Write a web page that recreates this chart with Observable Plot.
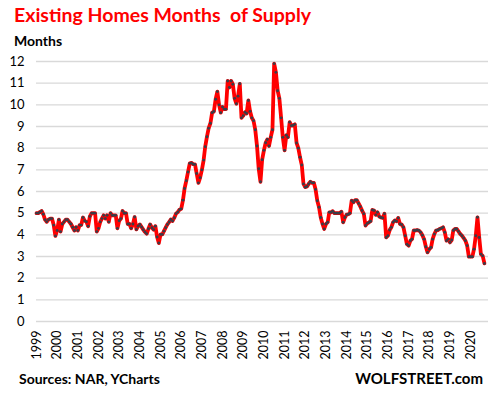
<!DOCTYPE html>
<html><head><meta charset="utf-8">
<script src="https://cdn.jsdelivr.net/npm/d3@7"></script>
<script src="https://cdn.jsdelivr.net/npm/@observablehq/plot@0.6"></script>
<style>
body{margin:0;background:#fff;}
#wrap{position:relative;width:493px;height:395px;overflow:hidden;font-family:Lato,"Open Sans",sans-serif;}
#title{position:absolute;left:14px;top:3px;font-size:19.5px;font-weight:bold;color:#ff0000;white-space:pre;}
#ylab{position:absolute;left:14px;top:32px;font-size:14px;font-weight:bold;color:#000;}
#chart{position:absolute;left:0;top:50px;}
#src{position:absolute;left:19px;top:370px;font-size:14px;font-weight:bold;color:#000;}
#ws{position:absolute;right:10px;top:369px;font-size:15px;font-weight:bold;color:#000;}
</style></head><body>
<div id="wrap">
<div id="title">Existing Homes Months  of Supply</div>
<div id="ylab">Months</div>
<div id="chart"></div>
<div id="src">Sources: NAR, YCharts</div>
<div id="ws">WOLFSTREET.com</div>
</div>
<script>
// Months of supply, monthly values (Jan..Dec) per year
const v1999 = [5.0, 5.0, 5.05, 5.1, 4.95, 4.7, 4.6, 4.7, 4.75, 4.75, 4.45, 3.95];
const v2000 = [4.2, 4.7, 4.15, 4.5, 4.6, 4.7, 4.7, 4.6, 4.5, 4.35, 4.2, 4.35];
const v2001 = [4.2, 4.45, 4.45, 4.8, 4.65, 4.6, 4.4, 4.85, 5.0, 5.0, 5.0, 4.15];
const v2002 = [4.3, 4.6, 4.75, 4.9, 4.75, 4.9, 4.6, 5.0, 4.9, 4.9, 4.9, 4.3];
const v2003 = [4.65, 4.75, 5.1, 5.0, 5.0, 4.5, 4.5, 4.3, 4.5, 4.82, 4.25, 4.4];
const v2004 = [4.48, 4.36, 4.24, 4.13, 4.05, 4.28, 4.48, 4.33, 4.24, 4.4, 3.9, 3.62];
const v2005 = [4.02, 4.02, 4.17, 4.33, 4.48, 4.59, 4.71, 4.64, 4.79, 4.98, 5.05, 5.16];
const v2006 = [5.2, 5.6, 6.14, 6.5, 6.9, 7.3, 7.32, 7.26, 7.25, 6.83, 6.4, 6.64];
const v2007 = [7.0, 7.45, 8.07, 8.53, 8.92, 9.15, 9.64, 9.69, 10.26, 10.61, 10.0, 9.64];
const v2008 = [9.9, 9.8, 9.8, 11.1, 10.8, 11.1, 10.95, 10.3, 10.05, 10.4, 10.97, 9.4];
const v2009 = [9.5, 9.66, 9.6, 10.2, 9.7, 9.4, 9.27, 8.85, 8.1, 7.05, 6.45, 7.47];
const v2010 = [7.9, 8.25, 8.4, 8.1, 8.5, 8.85, 11.9, 11.5, 10.65, 10.3, 9.4, 8.5];
const v2011 = [7.9, 8.6, 8.5, 9.2, 9.04, 9.05, 9.1, 8.24, 8.0, 7.58, 7.22, 6.35];
const v2012 = [6.2, 6.23, 6.35, 6.45, 6.4, 6.4, 6.1, 5.57, 5.27, 4.8, 4.5, 4.27];
const v2013 = [4.5, 4.58, 5.04, 5.04, 5.09, 5.0, 5.0, 5.0, 5.0, 5.07, 4.58, 4.8];
const v2014 = [4.93, 4.95, 5.0, 5.58, 5.5, 5.6, 5.6, 5.45, 5.3, 5.12, 4.97, 4.43];
const v2015 = [4.53, 4.58, 4.63, 5.15, 5.12, 4.92, 5.04, 4.84, 4.8, 4.78, 4.97, 3.88];
const v2016 = [3.96, 4.22, 4.35, 4.58, 4.66, 4.63, 4.78, 4.5, 4.47, 4.35, 3.96, 3.57];
const v2017 = [3.5, 3.73, 3.8, 4.2, 4.2, 4.22, 4.2, 4.12, 3.98, 3.8, 3.45, 3.19];
const v2018 = [3.34, 3.42, 3.8, 4.04, 4.2, 4.22, 4.27, 4.3, 4.35, 4.12, 3.73, 3.8];
const v2019 = [3.65, 3.76, 4.2, 4.27, 4.27, 4.16, 4.04, 3.96, 3.85, 3.73, 3.5, 2.99];
const v2020 = [2.99, 2.99, 3.34, 3.96, 4.81, 3.88, 3.11, 3.03, 2.68];

const years = [1999,2000,2001,2002,2003,2004,2005,2006,2007,2008,2009,2010,2011,2012,2013,2014,2015,2016,2017,2018,2019,2020];
const series = [v1999,v2000,v2001,v2002,v2003,v2004,v2005,v2006,v2007,v2008,v2009,v2010,v2011,v2012,v2013,v2014,v2015,v2016,v2017,v2018,v2019,v2020];
const yTicks = [0,1,2,3,4,5,6,7,8,9,10,11,12];

const data = [];
years.forEach((yr, i) => series[i].forEach((v, m) => data.push({date: new Date(Date.UTC(yr, m, 1)), value: v})));
const yearTicks = years.map(y => new Date(Date.UTC(y, 0, 1)));

const chart = Plot.plot({
  width: 493, height: 320,
  marginTop: 11, marginBottom: 49, marginLeft: 36, marginRight: 5,
  style: {fontFamily: "Lato, 'Open Sans', sans-serif", fontSize: "13px", color: "#000", background: "white"},
  x: {type: "utc", domain: [new Date(Date.UTC(1999,0,1)), new Date(Date.UTC(2020,10,12))]},
  y: {domain: [0, 12]},
  marks: [
    Plot.gridY(yTicks, {stroke: "#d9d9d9", strokeOpacity: 1, strokeWidth: 1.3}),
    Plot.axisY(yTicks, {tickSize: 0, tickPadding: 12, label: null, fontSize: 13}),
    Plot.axisX(yearTicks, {tickSize: 0, tickPadding: 9, tickRotate: -90, label: null, fontSize: 12.5, tickFormat: d => String(d.getUTCFullYear())}),
    Plot.line(data, {x: "date", y: "value", stroke: "#ff0000", strokeWidth: 3.8, strokeLinejoin: "round"}),
    Plot.dot(data, {x: "date", y: "value", r: 1.45, fill: "#3a3d48", stroke: "none"})
  ]
});
document.getElementById("chart").appendChild(chart);
</script>
</body></html>
